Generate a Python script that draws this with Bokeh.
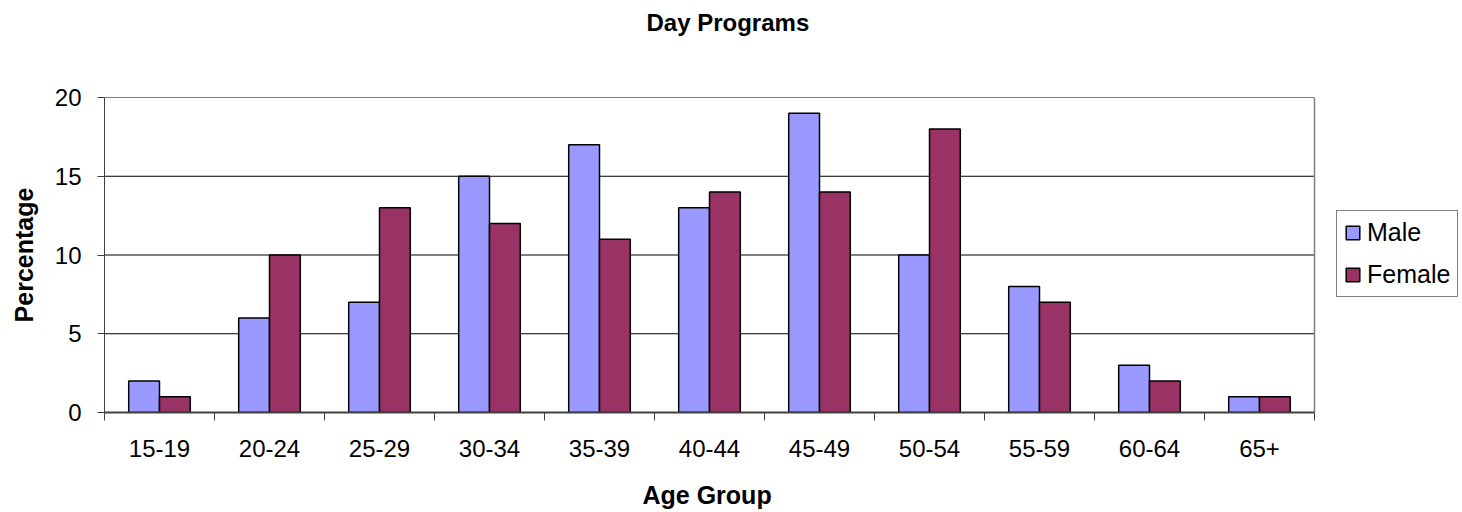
import numpy as np
from bokeh.plotting import figure
from bokeh.models import (ColumnDataSource, Range1d, FixedTicker, Legend, LegendItem, Title)
from bokeh.transform import dodge
from bokeh.embed import file_html
from bokeh.resources import INLINE

categories = ["15-19", "20-24", "25-29", "30-34", "35-39", "40-44",
              "45-49", "50-54", "55-59", "60-64", "65+"]
male = [2, 6, 7, 15, 17, 13, 19, 10, 8, 3, 1]
female = [1, 10, 13, 12, 11, 14, 14, 18, 7, 2, 1]
y_ticks = [0, 5, 10, 15, 20]

FONT = "Liberation Sans"
W, H = 1462, 512
LEFT, TOP, BOTTOM = 104, 97, 100
PLOT_W = 1210  # width of the drawn plot area in px
n = len(categories)
x_end = n * (W - LEFT) / PLOT_W  # frame extends under legend area

centers = [i + 0.5 for i in range(n)]
src = ColumnDataSource(dict(x=centers, male=male, female=female))

p = figure(width=W, height=H, output_backend="svg", toolbar_location=None,
           x_range=Range1d(0, x_end), y_range=Range1d(0, 20),
           min_border_left=LEFT, min_border_right=0, min_border_top=TOP,
           min_border_bottom=BOTTOM)

# horizontal grid lines and right border of plot area
p.segment(x0=0, x1=n, y0=y_ticks[1:], y1=y_ticks[1:], line_color="black", line_width=1)
p.segment(x0=[n], x1=[n], y0=[0], y1=[y_ticks[-1]], line_color="#808080", line_width=1.5)

bw = 0.28
r_m = p.vbar(x=dodge("x", -bw / 2), top="male", width=bw, source=src,
             fill_color="#9999FF", line_color="black", line_width=1.5)
r_f = p.vbar(x=dodge("x", bw / 2), top="female", width=bw, source=src,
             fill_color="#993366", line_color="black", line_width=1.5)

# x axis: labels at centers, ticks at boundaries (minor ticks)
xa = p.xaxis[0]
xa.bounds = (0, n)
xa.ticker = FixedTicker(ticks=centers, minor_ticks=list(range(n + 1)))
xa.major_label_overrides = {c: lab for c, lab in zip(centers, categories)}
xa.major_tick_line_color = None
xa.minor_tick_out = 8
xa.minor_tick_in = 0
xa.minor_tick_line_color = "#404040"
xa.axis_line_color = "#404040"
xa.axis_line_width = 2
xa.major_label_text_font = FONT
xa.major_label_text_font_size = "24px"
xa.major_label_text_color = "black"
xa.major_label_standoff = 19
# trailing no-break spaces shift the centred label over the plot area
xa.axis_label = "Age Group" + "\u00a0" * 22
xa.axis_label_text_font = FONT
xa.axis_label_text_font_style = "bold"
xa.axis_label_text_font_size = "25px"
xa.axis_label_text_color = "black"
xa.axis_label_standoff = 21

ya = p.yaxis[0]
ya.ticker = FixedTicker(ticks=y_ticks)
ya.minor_tick_line_color = None
ya.major_tick_out = 7
ya.major_tick_in = 0
ya.major_tick_line_color = "#404040"
ya.axis_line_color = "#404040"
ya.major_label_text_font = FONT
ya.major_label_text_font_size = "24px"
ya.major_label_text_color = "black"
ya.major_label_standoff = 16
ya.axis_label = "Percentage"
ya.axis_label_text_font = FONT
ya.axis_label_text_font_style = "bold"
ya.axis_label_text_font_size = "25px"
ya.axis_label_text_color = "black"
ya.axis_label_standoff = 14

p.xgrid.grid_line_color = None
p.ygrid.grid_line_color = None
p.outline_line_color = None

p.title = Title(text="Day Programs\n\n", align="left", offset=542, standoff=12,
                vertical_align="top",
                text_font=FONT, text_font_style="bold", text_font_size="24px",
                text_color="black")

legend = Legend(items=[LegendItem(label="Male", renderers=[r_m]),
                       LegendItem(label="Female", renderers=[r_f])],
                location=(1232, 115), orientation="vertical",
                label_text_font=FONT, label_text_font_size="25px",
                label_text_color="black",
                glyph_width=17, glyph_height=17, label_standoff=6,
                padding=7, spacing=13, margin=0,
                border_line_color="black", border_line_width=1,
                background_fill_color="white", background_fill_alpha=1)
p.add_layout(legend, "center")

p.background_fill_color = "white"
p.border_fill_color = "white"

open("out.html", "w").write(file_html(p, INLINE))
